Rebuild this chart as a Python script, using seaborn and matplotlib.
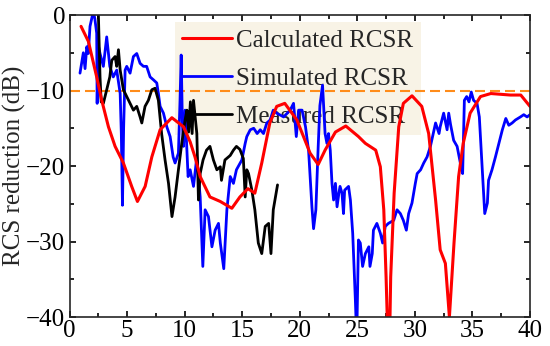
import numpy as np
import seaborn as sns
import matplotlib.pyplot as plt
from matplotlib.ticker import MultipleLocator

# calculated RCSR (red)
calc_f = [1.0, 1.64, 2.36, 2.8, 3.38, 3.96, 4.68, 5.4, 5.9, 6.57, 7.15, 7.87, 8.89, 9.9, 10.48, 10.9,
          11.35, 12.2, 13.1, 14.1, 14.8, 15.5, 16.1, 16.7, 17.4, 18.0, 18.7, 19.75, 20.9, 21.6, 22.2,
          23.1, 24.0, 25.1, 25.7, 26.6, 27.0, 27.3, 27.5, 27.75, 27.9, 28.2, 28.6, 29.0, 29.75, 30.6,
          31.2, 31.8, 32.2, 32.65, 33.0, 33.4, 33.8, 34.2, 34.8, 35.7, 36.6, 38.3, 39.2, 40.0]
calc_db = [-1.5, -3.5, -8.2, -11.3, -14.8, -17.4, -19.6, -22.7, -24.7, -22.7, -18.8, -15.2, -13.6, -14.8,
           -16.8, -18.8, -21.4, -24.1, -24.7, -25.6, -24.1, -23.0, -23.6, -19.6, -14.3, -12.1, -11.7,
           -13.9, -18.3, -19.8, -17.9, -15.5, -14.7, -16.1, -17.0, -17.9, -20.1, -25.8, -34.7, -48,
           -34.7, -23.6, -14.8, -11.7, -10.7, -12.1, -15.7, -24.5, -31.1, -32.9, -40.0, -30.2, -21.4,
           -17.0, -13.0, -10.8, -10.4, -10.6, -10.6, -12.1]

# simulated RCSR (blue)
sim_f = [0.91, 1.2, 1.35, 1.5, 1.63, 1.78, 2.07, 2.2, 2.36, 2.4, 2.5, 2.65, 2.94, 3.23, 3.5, 3.8, 4.1,
         4.4, 4.5, 4.6, 4.7, 4.83, 4.97, 5.26, 5.55, 5.84, 6.13, 6.42, 6.7, 7.0, 7.3, 7.58, 7.72, 7.87,
         8.16, 8.45, 8.74, 9.0, 9.17, 9.46, 9.6, 9.7, 9.8, 9.9, 10.04, 10.3, 10.48, 10.77, 11.06, 11.35,
         11.58, 11.78, 12.07, 12.37, 12.65, 12.94, 13.1, 13.4, 13.67, 13.96, 14.24, 14.5, 14.97, 15.26,
         15.4, 15.7, 16.0, 16.3, 16.57, 16.85, 17.14, 17.43, 17.7, 18.0, 18.6, 19.17, 19.46, 19.7, 19.9,
         20.2, 20.5, 20.77, 21.06, 21.2, 21.4, 21.6, 21.75, 21.98, 22.2, 22.36, 22.5, 22.65, 22.8, 22.94,
         23.1, 23.24, 23.4, 23.5, 23.67, 23.8, 23.9, 24.24, 24.4, 24.6, 24.83, 24.95, 25.1, 25.26, 25.46,
         25.7, 26.0, 26.1, 26.3, 26.4, 26.7, 27.0, 27.2, 27.43, 27.7, 28.16, 28.45, 28.74, 29.0, 29.26,
         29.46, 29.75, 30.04, 30.2, 30.5, 30.77, 31.06, 31.35, 31.6, 31.8, 32.1, 32.2, 32.5, 32.8, 32.94,
         33.1, 33.37, 33.67, 33.95, 34.15, 34.3, 34.5, 34.7, 34.9, 35.1, 35.4, 35.6, 35.84, 36.07, 36.3,
         36.4, 36.7, 37.0, 37.3, 37.6, 37.9, 38.16, 38.45, 38.74, 39.17, 39.46, 39.75, 40.0]
sim_db = [-7.7, -5.0, -7.1, -4.2, -5.1, -1.5, 0.5, -0.5, -2.4, -11.7, -4.0, -5.1, -6.8, -2.9, -6.8, -8.2,
          -7.3, -10.4, -15.7, -25.2, -15.0, -7.3, -6.8, -7.7, -5.5, -5.1, -6.4, -6.8, -6.8, -8.2, -8.6,
          -9.0, -10.4, -12.1, -13.0, -14.8, -16.1, -18.8, -19.6, -18.3, -11.3, -5.3, -14.0, -17.4, -12.6,
          -21.4, -20.5, -22.7, -18.8, -24.1, -33.3, -25.8, -26.7, -30.7, -28.5, -27.6, -30.2, -33.6,
          -25.8, -21.4, -22.3, -20.5, -19.2, -17.0, -16.1, -15.2, -15.0, -15.7, -15.2, -15.7, -14.3,
          -13.9, -12.6, -13.0, -13.5, -12.6, -11.7, -16.1, -12.6, -12.6, -14.8, -18.0, -25.5, -28.3,
          -25.8, -17.5, -12.0, -9.3, -15.7, -17.0, -15.7, -17.9, -22.3, -24.5, -22.3, -25.4, -23.6,
          -22.7, -23.6, -26.3, -23.2, -22.7, -24.5, -28.9, -37.7, -43.0, -29.8, -30.2, -33.3, -31.6,
          -30.7, -33.3, -31.6, -28.5, -27.6, -28.9, -30.2, -28.0, -27.6, -27.2, -25.8, -26.3, -27.2,
          -28.5, -26.3, -24.9, -22.3, -21.0, -20.5, -19.6, -18.8, -17.4, -15.7, -14.3, -15.7, -14.8,
          -13.0, -15.2, -13.0, -14.5, -16.6, -17.4, -19.6, -21.0, -11.3, -10.8, -11.5, -10.2, -11.3,
          -11.7, -13.5, -20.1, -26.3, -24.9, -21.9, -20.5, -18.8, -17.0, -15.2, -13.7, -14.6, -14.3,
          -13.9, -13.5, -13.2, -13.5, -13.2]

# measured RCSR (black)
meas_f = [2.5, 2.65, 2.75, 2.94, 3.23, 3.5, 3.67, 3.96, 4.1, 4.25, 4.4, 4.68, 4.97, 5.26, 5.55, 5.84,
          6.13, 6.28, 6.56, 6.85, 7.15, 7.43, 7.72, 8.0, 8.3, 8.6, 8.9, 9.17, 9.46, 9.75, 10.04, 10.2,
          10.35, 10.5, 10.65, 10.77, 11.06, 11.2, 11.35, 11.6, 11.9, 12.2, 12.5, 12.8, 13.1, 13.2, 13.5,
          13.96, 14.24, 14.5, 14.8, 15.1, 15.26, 15.4, 15.55, 15.84, 16.1, 16.4, 16.7, 17.0, 17.3, 17.5,
          17.7, 18.07]
meas_db = [0.5, -8.2, -11.5, -11.7, -9.9, -8.2, -6.0, -5.5, -6.8, -4.6, -7.3, -9.9, -10.8, -11.7, -12.6,
           -12.1, -13.5, -14.3, -12.1, -11.3, -9.9, -9.7, -11.3, -15.7, -19.2, -22.3, -26.7, -24.1, -20.5,
           -17.0, -13.9, -12.6, -15.5, -11.5, -15.7, -11.3, -15.7, -24.5, -21.0, -19.2, -17.9, -17.4,
           -19.2, -20.5, -20.1, -21.9, -19.2, -18.6, -17.9, -17.4, -17.8, -19.0, -24.1, -20.5, -21.0,
           -23.2, -25.8, -30.2, -31.6, -28.0, -27.6, -31.6, -25.8, -22.5]

sns.set_style('ticks')
plt.rcParams['font.family'] = ['Liberation Serif', 'DejaVu Serif']
plt.rcParams['font.size'] = 18
plt.rcParams['axes.linewidth'] = 1.2

fig = plt.figure(figsize=(5.5, 3.46), dpi=100)
ax = fig.add_axes([0.1264, 0.0838, 0.8372, 0.8728])

ax.axhline(-10, color='#ff8c1a', ls=(0, (4.8, 2.4)), lw=1.5, zorder=1.5)
sns.lineplot(x=sim_f, y=sim_db, color='#0000ff', lw=2.0, sort=False, ax=ax, zorder=2)
sns.lineplot(x=meas_f, y=meas_db, color='black', lw=2.0, sort=False, ax=ax, zorder=2.1)
sns.lineplot(x=calc_f, y=calc_db, color='#ff0000', lw=2.2, sort=False, ax=ax, zorder=2.2)
lines = ax.get_lines()
handles = [lines[3], lines[1], lines[2]]
labels = ['Calculated RCSR', 'Simulated RCSR', 'Measured RCSR']

ax.set_xlim(0, 40)
ax.set_ylim(-40, 0)
ax.xaxis.set_major_locator(MultipleLocator(5))
ax.xaxis.set_minor_locator(MultipleLocator(2.5))
ax.yaxis.set_major_locator(MultipleLocator(10))
ax.yaxis.set_minor_locator(MultipleLocator(5))
ax.tick_params(which='both', direction='in', top=True, right=True, width=1.2,
               colors='black', labelsize=18)
ax.tick_params(axis='y', which='both', pad=3)
ax.tick_params(axis='x', which='both', pad=2.5)
ax.tick_params(which='major', length=4)
ax.tick_params(which='minor', length=3)
ax.set_ylabel('RCS reduction (dB)', fontsize=18, labelpad=0)

leg = ax.legend(handles, labels, loc='upper left', bbox_to_anchor=(0.229, 0.977),
                frameon=True, facecolor='#f8f3e6', edgecolor='none', framealpha=1,
                fancybox=False, handlelength=2.0, handletextpad=0.15, borderpad=0.3,
                labelspacing=0.62, fontsize=18, borderaxespad=0)
leg.set_zorder(1)

plt.savefig('out.png', dpi=100)
